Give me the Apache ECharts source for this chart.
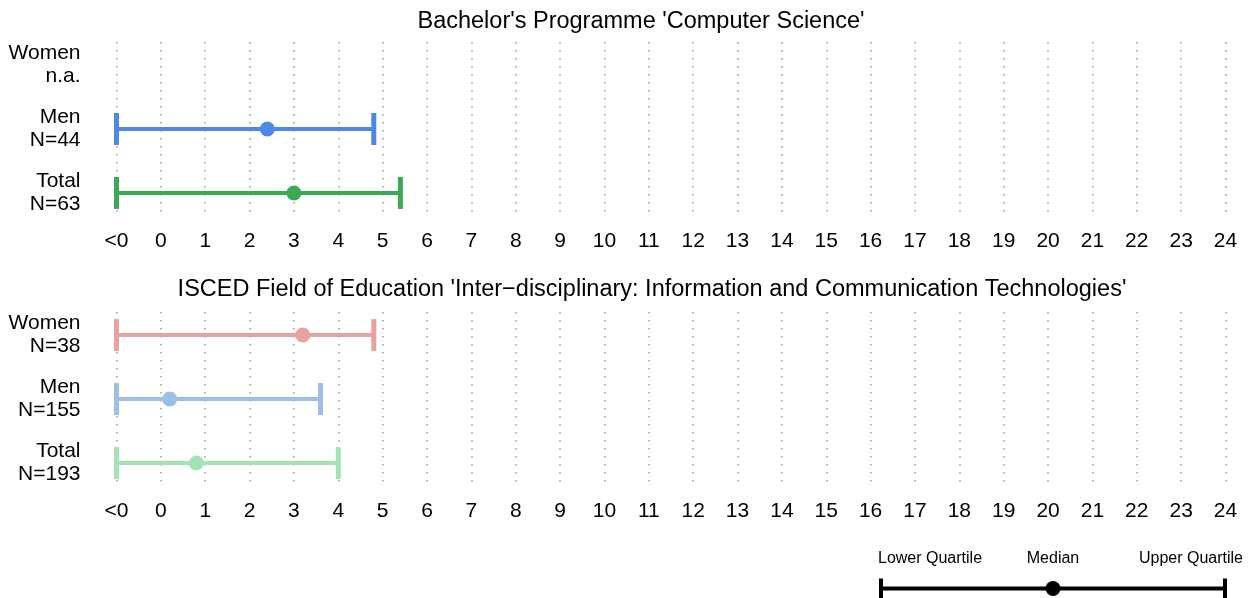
<!DOCTYPE html>
<html>
<head>
<meta charset="utf-8">
<script src="https://cdn.jsdelivr.net/npm/echarts@6/dist/echarts.min.js"></script>
<style>html,body{margin:0;padding:0;background:#fff}#c{width:1248px;height:598px}</style>
</head>
<body>
<div id="c"></div>
<script>
// ---- data ----
const xTickLabels = ['<0','0','1','2','3','4','5','6','7','8','9','10','11','12','13','14','15','16','17','18','19','20','21','22','23','24'];
const rowLabels1 = ['Total\nN=63', 'Men\nN=44', 'Women\nn.a.'];
const rowLabels2 = ['Total\nN=193', 'Men\nN=155', 'Women\nN=38'];
const title1 = "Bachelor's Programme 'Computer Science'";
const title2 = "ISCED Field of Education 'Inter\u2212disciplinary: Information and Communication Technologies'";
// rows: 1 = Total, 2 = Men, 3 = Women
const csLower  = [-1, -1, null];
const csMedian = [3.0, 2.4, null];
const csUpper  = [5.4, 4.8, null];
const csColors = ['#3BAA57', '#5088E8', '#E8A2A2'];
const ictLower  = [-1, -1, -1];
const ictMedian = [0.8, 0.2, 3.2];
const ictUpper  = [4.0, 3.6, 4.8];
const ictColors = ['#A3E4B4', '#9EBEE6', '#E8A2A2'];
const legendLabels = ['Lower Quartile', 'Median', 'Upper Quartile'];
const legendValues = [0, 0.5, 1];

const FONT = 'Liberation Sans, Arial, Helvetica, sans-serif';

function buildData(lo, med, hi, colors) {
  const out = [];
  for (let i = 0; i < lo.length; i++) {
    if (lo[i] == null) continue;
    out.push({ value: [lo[i], med[i], hi[i], i + 1], itemStyle: { color: colors[i] } });
  }
  return out;
}

function renderRange(capHalf, lw, capW, r, withText) {
  return function (params, api) {
    const row = api.value(3);
    const a = api.coord([api.value(0), row]);
    const m = api.coord([api.value(1), row]);
    const b = api.coord([api.value(2), row]);
    const color = api.visual('color');
    const children = [
      { type: 'line', shape: { x1: a[0], y1: a[1], x2: b[0], y2: b[1] }, style: { stroke: color, lineWidth: lw, lineCap: 'butt' } },
      { type: 'line', shape: { x1: a[0], y1: a[1] - capHalf, x2: a[0], y2: a[1] + capHalf }, style: { stroke: color, lineWidth: capW, lineCap: 'butt' } },
      { type: 'line', shape: { x1: b[0], y1: b[1] - capHalf, x2: b[0], y2: b[1] + capHalf }, style: { stroke: color, lineWidth: capW, lineCap: 'butt' } },
      { type: 'circle', shape: { cx: m[0], cy: m[1], r: r }, style: { fill: color } }
    ];
    if (withText) {
      const xs = [a[0] - 3, m[0], b[0] + 18];
      const al = ['left', 'center', 'right'];
      for (let k = 0; k < 3; k++) {
        children.push({ type: 'text', style: { text: legendLabels[k], x: xs[k], y: a[1] - 30, align: al[k], verticalAlign: 'middle', fontSize: 16, fontFamily: FONT, fill: '#000' } });
      }
    }
    return { type: 'group', children: children };
  };
}

function xAxis(gridIndex) {
  return {
    type: 'value', gridIndex: gridIndex, min: -1, max: 24, interval: 1,
    axisLine: { show: false }, axisTick: { show: false },
    axisLabel: { fontSize: 21, fontFamily: FONT, color: '#000', margin: 15, formatter: v => xTickLabels[Math.round(v) + 1] },
    splitLine: { show: true, lineStyle: { color: '#999999', width: 1.5, type: [1.5, 6.5] } }
  };
}
function yAxis(gridIndex, labels) {
  return {
    type: 'value', gridIndex: gridIndex, min: 0.64, max: 3.36,
    axisLine: { show: false }, axisTick: { show: false }, splitLine: { show: false },
    axisLabel: { customValues: [1, 2, 3], fontSize: 21, lineHeight: 23, fontFamily: FONT, color: '#000', margin: 36, align: 'right',
      padding: [4, 0, 0, 0],
      formatter: v => labels[Math.round(v) - 1] }
  };
}

const chart = echarts.init(document.getElementById('c'), null, { renderer: 'canvas' });
chart.setOption({
  animation: false,
  backgroundColor: '#fff',
  title: [
    { text: title1, left: 636, top: 5, textAlign: 'center', textStyle: { fontSize: 23.5, fontWeight: 'normal', fontFamily: FONT, color: '#000' } },
    { text: title2, left: 647, top: 273, textAlign: 'center', textStyle: { fontSize: 23.5, fontWeight: 'normal', fontFamily: FONT, color: '#000' } }
  ],
  grid: [
    { left: 116.5, right: 22.5, top: 42, height: 174 },
    { left: 116.5, right: 22.5, top: 312, height: 174 },
    { left: 881, right: 23, top: 579, height: 20 }
  ],
  xAxis: [xAxis(0), xAxis(1),
    { type: 'value', gridIndex: 2, min: 0, max: 1, show: false }],
  yAxis: [yAxis(0, rowLabels1), yAxis(1, rowLabels2),
    { type: 'value', gridIndex: 2, min: 0, max: 2, show: false }],
  series: [
    { type: 'custom', xAxisIndex: 0, yAxisIndex: 0, clip: false, renderItem: renderRange(16, 4, 5, 7.5, false), encode: { x: [0, 1, 2], y: 3 }, data: buildData(csLower, csMedian, csUpper, csColors) },
    { type: 'custom', xAxisIndex: 1, yAxisIndex: 1, clip: false, renderItem: renderRange(16, 4, 5, 7.5, false), encode: { x: [0, 1, 2], y: 3 }, data: buildData(ictLower, ictMedian, ictUpper, ictColors) },
    { type: 'custom', xAxisIndex: 2, yAxisIndex: 2, clip: false, renderItem: renderRange(10, 4, 4, 7.5, true), encode: { x: [0, 1, 2], y: 3 },
      data: [{ value: [legendValues[0], legendValues[1], legendValues[2], 1], itemStyle: { color: '#000' } }] }
  ]
});
</script>
</body>
</html>
